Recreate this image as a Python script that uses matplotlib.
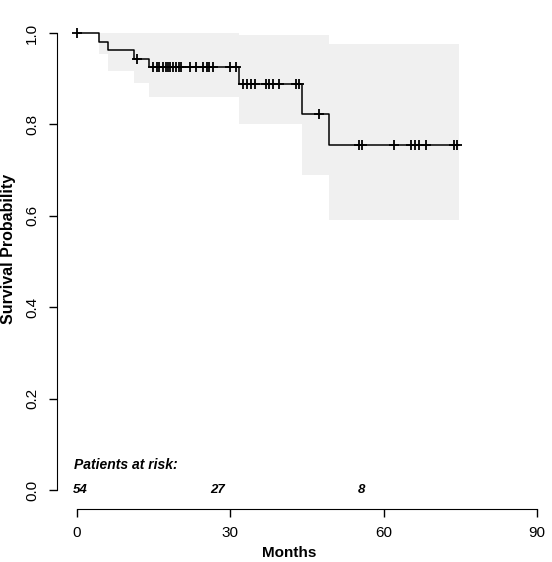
import numpy as np
import matplotlib.pyplot as plt

plt.rcParams['font.family'] = ['Liberation Sans', 'DejaVu Sans']

# Kaplan-Meier steps (months, survival)
event_t = [0, 4.4, 6.1, 11.2, 14.1, 31.8, 44.0, 49.3, 74.7]
surv = [1.0, 0.981, 0.963, 0.944, 0.926, 0.889, 0.823, 0.754, 0.754]

# confidence band, same steps
ci_t = [4.4, 6.1, 11.2, 14.1, 31.8, 44.0, 49.3, 74.7]
ci_lo = [0.955, 0.917, 0.890, 0.860, 0.800, 0.690, 0.590, 0.590]
ci_hi = [1.0, 1.0, 1.0, 1.0, 0.995, 0.995, 0.975, 0.975]

censor_t = [0, 11.8,
            14.9, 15.6, 16.1, 16.8, 17.4, 17.9, 18.3, 18.8, 19.4, 20.0, 20.4,
            22.1, 23.3, 24.7, 25.4, 25.9, 26.6, 29.9, 31.1,
            32.5, 33.2, 34.0, 34.8, 37.0, 37.6, 38.4, 39.6, 42.9, 43.4,
            47.4,
            55.2, 55.7, 62.0, 65.3, 66.1, 66.9, 68.3, 73.8, 74.3]

risk_x = [0.7, 27.5, 55.6]
risk_n = ['54', '27', '8']

fig = plt.figure(figsize=(5.52, 5.62), dpi=100)
ax = fig.add_axes([57 / 552, 53 / 562, 480 / 552, 494 / 562])

ax.fill_between(ci_t, ci_lo, ci_hi, step='post', color='#f0f0f0', lw=0)
ax.step(event_t, surv, where='post', color='black', lw=1.1, clip_on=False)

idx = np.searchsorted(event_t, censor_t, side='right') - 1
ax.plot(censor_t, np.array(surv)[idx], '+', color='black', ms=6.5, mew=1.3,
        clip_on=False)

ax.text(-0.5, 0.055, 'Patients at risk:', fontsize=10, fontweight='bold',
        style='italic', va='center')
for x, n in zip(risk_x, risk_n):
    ax.text(x, 0.0, n, fontsize=9.5, fontweight='bold', style='italic',
            ha='center', va='center')

ax.set_xlim(-3.9, 90)
ax.set_ylim(-0.0416, 1.0394)
ax.set_xticks([0, 30, 60, 90])
ax.set_yticks([0, 0.2, 0.4, 0.6, 0.8, 1.0])
ax.set_yticklabels(['0.0', '0.2', '0.4', '0.6', '0.8', '1.0'],
                   rotation=90, va='center')
ax.tick_params(direction='out', length=6, width=1, labelsize=11, pad=6)
ax.tick_params(axis='y', pad=7)

for s in ['top', 'right']:
    ax.spines[s].set_visible(False)
ax.spines['left'].set_bounds(0, 1)
ax.spines['bottom'].set_bounds(0, 90)

ax.set_xlabel('Months', fontsize=11, fontweight='bold')
ax.set_ylabel('Survival Probability', fontsize=11.5, fontweight='bold')
ax.xaxis.set_label_coords(0.483, -0.075)
ax.yaxis.set_label_coords(-0.086, 0.526)

fig.savefig('out.png', dpi=100)
